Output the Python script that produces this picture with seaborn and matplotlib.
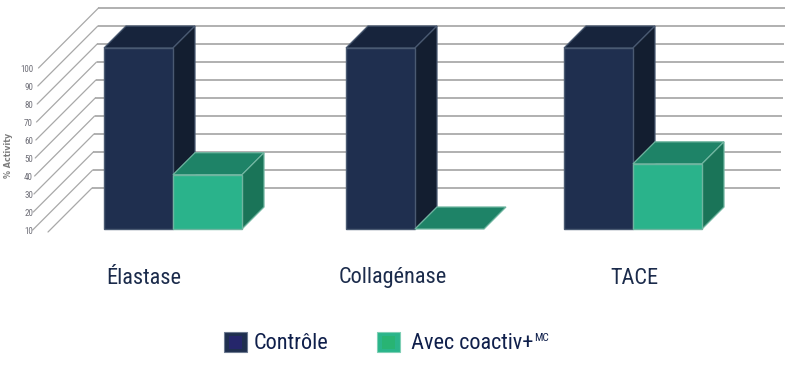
import matplotlib
matplotlib.use("Agg")
import matplotlib.pyplot as plt
from matplotlib import font_manager as fm
from matplotlib.patches import Polygon, Rectangle
import pandas as pd
import seaborn as sns

categories = ["Élastase", "Collagénase", "TACE"]
series_names = ["Contrôle", " Avec coactiv+"]
series_mark = "MC"
control_values = [100, 100, 100]
coactiv_values = [30, 0, 36]
tick_values = [10, 20, 30, 40, 50, 60, 70, 80, 90, 100]
y_title = "% Activity"

# layout (pixels of the 790x373 figure)
W, H = 790, 373
BASE_PX = 229.0
PX = 1.81
BAR_W = 69
DEPTH = 22
group_left = [104, 346, 564]
names = sorted(f.name for f in fm.fontManager.ttflist)
NARROW = next((n for n in ["Liberation Sans Narrow", "Roboto Condensed", "Open Sans Condensed", "Liberation Sans"] if n in names), "DejaVu Sans")

sns.set_theme(style="white")
plt.rcParams["font.family"] = [NARROW, "DejaVu Sans"]

NAVY, NAVY_TOP, NAVY_SIDE, NAVY_EDGE = "#1f2f4f", "#17243c", "#131e30", "#4a5a72"
GREEN, GREEN_TOP, GREEN_SIDE, GREEN_EDGE = "#2ab38b", "#1e8367", "#1a7458", "#6fb5a0"


def v_of(px):
    return (BASE_PX - px) / PX


fig = plt.figure(figsize=(W / 100, H / 100), dpi=100)
ax = fig.add_axes([0, 0, 1, 1])

centers, values, hue = [], [], []
for i, left in enumerate(group_left):
    centers += [left + BAR_W / 2, left + BAR_W * 1.5]
    values += [control_values[i], coactiv_values[i]]
    hue += ["Contrôle", "Avec"]
df = pd.DataFrame({"x": centers, "value": values, "series": hue})
sns.barplot(data=df, x="x", y="value", hue="series", native_scale=True, dodge=False, width=1,
            palette={"Contrôle": NAVY, "Avec": GREEN}, legend=False, ax=ax, saturation=1,
            edgecolor=None, linewidth=0)
for p, (_, row) in zip([b for c in ax.containers for b in c], pd.concat([df[df.series == "Contrôle"], df[df.series == "Avec"]]).iterrows()):
    navy = row.series == "Contrôle"
    p.set_zorder(4 if navy else 7)
    p.set_edgecolor(NAVY_EDGE if navy else GREEN_EDGE)
    p.set_linewidth(1.0)
    if row.value == 0:
        p.set_visible(False)

ax.set_xlim(0, W)
ax.set_ylim(v_of(H), v_of(0))
ax.axis("off")

# depth faces
for _, row in df.iterrows():
    navy = row.series == "Contrôle"
    x0 = row.x - BAR_W / 2
    x1 = x0 + BAR_W
    d = DEPTH / PX
    z = 3 if navy else 6
    top = Polygon([(x0, row.value), (x1, row.value), (x1 + DEPTH, row.value + d), (x0 + DEPTH, row.value + d)],
                  closed=True, fc=NAVY_TOP if navy else GREEN_TOP, ec=NAVY_EDGE if navy else GREEN_EDGE, lw=0.9, zorder=z)
    ax.add_patch(top)
    if row.value > 0:
        side = Polygon([(x1, 0), (x1 + DEPTH, d), (x1 + DEPTH, row.value + d), (x1, row.value)],
                       closed=True, fc=NAVY_SIDE if navy else GREEN_SIDE, ec=NAVY_EDGE if navy else GREEN_EDGE, lw=0.9, zorder=z)
        ax.add_patch(side)

# grid: one back line and one diagonal per level (0 = floor)
for v in [0] + tick_values:
    y_back_px = 188 - 1.8 * v
    back_left = 92 + 0.036 * (188 - y_back_px)
    back_right = 780 + 0.028 * (188 - y_back_px)
    ax.plot([back_left, back_right], [v_of(y_back_px)] * 2, color="#a3a3a3", lw=1.2, zorder=1, solid_capstyle="butt")
    run = 44 if v == 0 else 60
    ax.plot([back_left - run, back_left], [v_of(y_back_px + run), v_of(y_back_px)], color="#a8a8a8", lw=0.9, zorder=1)
    if v:
        ax.text(33, v_of(y_back_px + 61), str(v), ha="right", va="center", fontsize=6.5, color="#6f6f78", zorder=9)

ax.text(9, v_of(155), y_title, rotation=90, ha="center", va="center", fontsize=5.8, fontweight="bold",
        color="#7d7d7d", family=["DejaVu Sans"], zorder=9)

for cat, x in zip(categories, [144, 393, 634.5]):
    ax.text(x, v_of(278), cat, ha="center", va="center", fontsize=16, color="#1b2b4b", zorder=9)

# legend
handles = [Rectangle((0, 0), 1, 1, fc=NAVY, ec="#6d7a90", lw=0.8), Rectangle((0, 0), 1, 1, fc="#2ab58a", ec="#7fcfb5", lw=0.8)]
leg = ax.legend(handles, series_names, loc="center left", bbox_to_anchor=(224 / W, 1 - 343 / H), bbox_transform=fig.transFigure,
                ncol=2, frameon=False, fontsize=16, labelcolor="#0f1f4b", handlelength=1.04, handleheight=1.04,
                handletextpad=0.28, columnspacing=2.2, borderpad=0, borderaxespad=0)
ax.text(534, v_of(338), series_mark, ha="left", va="center", fontsize=8, color="#0f1f4b", zorder=20)
for x, c in [(229, "#25266b"), (382, "#28b473")]:
    ax.add_patch(Rectangle((x, v_of(349)), 13, 13 / PX, fc=c, ec="none", zorder=20))

fig.savefig("out.png", dpi=100)
